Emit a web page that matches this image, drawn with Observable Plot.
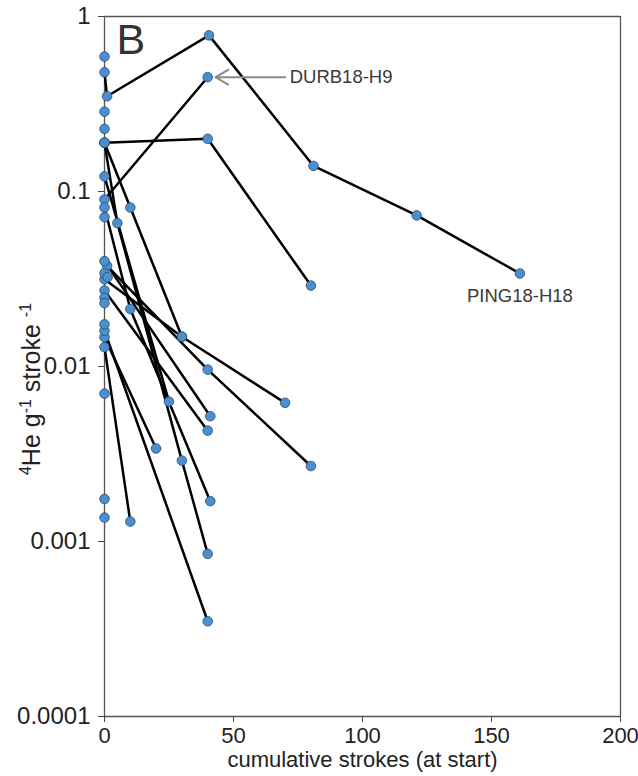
<!DOCTYPE html>
<html>
<head>
<meta charset="utf-8">
<script src="https://cdn.jsdelivr.net/npm/d3@7"></script>
<script src="https://cdn.jsdelivr.net/npm/@observablehq/plot@0.6"></script>
<style>
  html, body { margin: 0; padding: 0; background: #fff; }
  #chart { width: 638px; height: 776px; }
  svg { font-family: "Liberation Sans", Arial, sans-serif; }
</style>
</head>
<body>
<div id="chart"></div>
<script>
// Helium-4 release per gram per stroke, by sample, against cumulative strokes.
const sampleNames = [
  "PING18-H18", "DURB18-H9", "S3", "S4", "S5", "S6", "S7", "S8", "S9",
  "S10", "S11", "S12", "S13", "S14",
  "S15", "S16", "S17", "S18", "S19", "S20", "S21", "S22", "S23", "S24"
];
const strokes = [
  [0, 1, 40.5, 81, 121, 161],
  [0, 40],
  [0, 40, 80],
  [0, 10, 30],
  [0, 30, 70],
  [0, 5, 30, 40],
  [0, 25],
  [0, 10, 41],
  [1, 40, 80],
  [0, 41],
  [0, 40],
  [0, 20],
  [0, 10],
  [0, 40],
  [0], [0], [0], [0], [0], [1.2], [0], [0], [0], [0]
];
const heValues = [
  [0.48, 0.35, 0.78, 0.14, 0.073, 0.034],
  [0.09, 0.45],
  [0.19, 0.20, 0.029],
  [0.19, 0.081, 0.0148],
  [0.0315, 0.0148, 0.0062],
  [0.19, 0.066, 0.0029, 0.00085],
  [0.122, 0.0063],
  [0.081, 0.0213, 0.0017],
  [0.0376, 0.0096, 0.0027],
  [0.040, 0.0052],
  [0.0272, 0.0043],
  [0.0147, 0.0034],
  [0.0129, 0.0013],
  [0.016, 0.00035],
  [0.59], [0.286], [0.228], [0.0713], [0.0341], [0.0324], [0.0247], [0.023],
  [0.0174], [0.0070]
];
const lonePoints = [0.00175, 0.00137];

const xTicks = [0, 50, 100, 150, 200];
const yTicks = [0.0001, 0.001, 0.01, 0.1, 1];
const yTickLabels = ["0.0001", "0.001", "0.01", "0.1", "1"];

// long table of every measurement
const rows = [];
sampleNames.forEach((name, i) => {
  strokes[i].forEach((s, j) => rows.push({sample: name, strokes: s, he: heValues[i][j]}));
});
lonePoints.forEach((v, k) => rows.push({sample: "L" + k, strokes: 0, he: v}));

const durb = rows.filter(d => d.sample === "DURB18-H9").at(-1);
const ping = rows.filter(d => d.sample === "PING18-H18").at(-1);

const xMax = xTicks.at(-1), yMax = yTicks.at(-1);

const chart = Plot.plot({
  width: 638,
  height: 776,
  marginLeft: 104,
  marginRight: 18,
  marginTop: 16,
  marginBottom: 60,
  style: {fontFamily: "Liberation Sans, Arial, sans-serif", color: "#222", background: "#fff"},
  x: {domain: [0, xMax]},
  y: {type: "log", domain: [yTicks[0], yMax]},
  marks: [
    // plot box
    Plot.ruleX([0, xMax], {stroke: "#555", strokeWidth: 1.3}),
    Plot.ruleY([yTicks[0], yMax], {stroke: "#555", strokeWidth: 1.3}),
    Plot.axisX({ticks: xTicks, tickSize: 6, tickPadding: 5, label: null, stroke: "#444"}),
    Plot.axisY({ticks: yTicks, tickSize: 6, tickPadding: 8, label: null, stroke: "#444",
      tickFormat: d => yTickLabels[yTicks.findIndex(t => Math.abs(t - d) / t < 1e-6)]}),
    Plot.line(rows, {x: "strokes", y: "he", z: "sample", stroke: "#000", strokeWidth: 2.5}),
    Plot.dot(rows, {x: "strokes", y: "he", r: 4.8, fill: "#4a8fd0", stroke: "#2c4a6a", strokeWidth: 0.8}),
    Plot.arrow([durb], {x1: d => d.strokes + 30, y1: "he", x2: d => d.strokes + 3, y2: "he",
      stroke: "#8a8a8a", strokeWidth: 2, headLength: 11}),
    Plot.text([durb], {x: d => d.strokes + 31, y: "he", text: () => "DURB18-H9", textAnchor: "start",
      fontSize: 18.5, fill: "#3a3a3a", dx: 2}),
    Plot.text([ping], {x: "strokes", y: "he", text: () => "PING18-H18", dy: 23,
      fontSize: 18.5, fill: "#3a3a3a"}),
    Plot.text(["B"], {frameAnchor: "top-left", textAnchor: "start", lineAnchor: "middle", dx: 12, dy: 24, fontSize: 43, fill: "#333"}),
    Plot.text(["cumulative strokes (at start)"], {frameAnchor: "bottom", dy: 50, fontSize: 22, fill: "#222"})
  ]
});

const svg = d3.select(chart);
// tick label sizes
svg.selectAll('g[aria-label="x-axis tick label"]').attr("font-size", 22);
svg.selectAll('g[aria-label="y-axis tick label"]').attr("font-size", 24);

// y-axis title with superscripts
const yTitle = svg.append("text")
  .attr("transform", "translate(40,389) rotate(-90)")
  .attr("text-anchor", "middle")
  .attr("font-size", 25)
  .attr("fill", "#222");
yTitle.append("tspan").attr("font-size", 16).attr("dy", -9).text("4");
yTitle.append("tspan").attr("dy", 9).text("He g");
yTitle.append("tspan").attr("font-size", 16).attr("dy", -9).text("-1");
yTitle.append("tspan").attr("dy", 9).text(" stroke ");
yTitle.append("tspan").attr("font-size", 16).attr("dy", -9).text("-1");

document.getElementById("chart").appendChild(chart);
</script>
</body>
</html>
